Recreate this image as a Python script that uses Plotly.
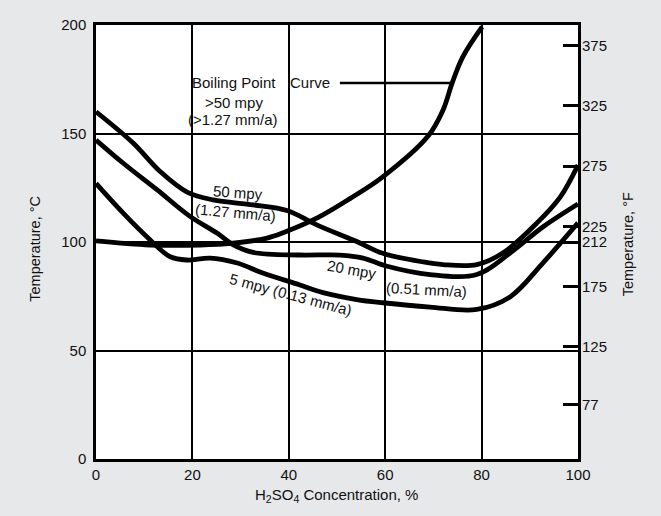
import plotly.graph_objects as go

# ---- data (H2SO4 concentration %, temperature °C) ----
conc_50mpy = [0, 7.7, 13.3, 18.9, 24.3, 32.6, 39.6, 45.9, 54.1, 59.5, 67.9, 72, 79, 84.4, 91.5, 96.3, 100]
temp_50mpy = [160, 145.6, 132.5, 123.0, 119.4, 117.1, 114.5, 107.8, 100.2, 94.8, 90.8, 89.6, 89.6, 94.9, 108.8, 120.7, 135.5]

conc_20mpy = [0, 5.6, 12.7, 19.5, 25.1, 28.4, 32.6, 42.3, 50.6, 55.4, 60.4, 69.3, 79.0, 85.9, 92.7, 100]
temp_20mpy = [147, 136.4, 124.0, 111.8, 104.1, 98.8, 95.2, 94.0, 94.0, 92.6, 88.8, 85.0, 85.0, 94.9, 106.9, 117.5]

conc_5mpy = [0, 5.6, 10.6, 15.4, 18.9, 23.7, 29.3, 34.6, 42.3, 47.1, 54.1, 59.5, 69.3, 79.0, 85.9, 92.7, 100]
temp_5mpy = [127, 113.4, 102.3, 93.2, 91.7, 92.6, 90.3, 85.7, 80.2, 76.7, 73.5, 72.0, 70.0, 68.9, 74.7, 90.3, 108.8]

conc_boil = [0, 11.2, 21.6, 28.4, 35.5, 39.2, 45.9, 52.7, 59.5, 68.9, 72.0, 73.9, 76.1, 80.1]
temp_boil = [100.5, 98.6, 98.6, 99.5, 101.8, 104.6, 111.1, 120.0, 130, 148.8, 160.8, 173.3, 185.3, 199.1]

x_ticks = [0, 20, 40, 60, 80, 100]
c_ticks = [0, 50, 100, 150, 200]
f_ticks = [77, 125, 175, 212, 225, 275, 325, 375]

FONT = "Liberation Sans, Arial, Helvetica, sans-serif"

fig = go.Figure()
for xs, ys in [(conc_50mpy, temp_50mpy), (conc_20mpy, temp_20mpy),
               (conc_5mpy, temp_5mpy), (conc_boil, temp_boil)]:
    fig.add_trace(go.Scatter(x=xs, y=ys, mode="lines",
                             line=dict(color="black", width=4.8, shape="spline", smoothing=1.0),
                             hoverinfo="skip", showlegend=False))

# invisible trace to activate the °F axis
fig.add_trace(go.Scatter(x=[0], y=[32], yaxis="y2", mode="markers",
                         marker=dict(opacity=0), hoverinfo="skip", showlegend=False))

# leader line for the boiling point curve label
fig.add_shape(type="line", x0=50.6, x1=73.9, y0=173.3, y1=173.3,
              line=dict(color="black", width=2.5))

annots = [
    dict(text="Boiling Point", x=28.6, y=173.6, angle=0, xanchor="center"),
    dict(text="Curve", x=39.9, y=173.6, angle=0, xanchor="left"),
    dict(text=">50 mpy", x=28.6, y=164.4, angle=0, xanchor="center"),
    dict(text="(>1.27 mm/a)", x=28.4, y=156.4, angle=0, xanchor="center"),
    dict(text="50 mpy", x=29.5, y=122.8, angle=4, xanchor="center"),
    dict(text="(1.27 mm/a)", x=29.0, y=113.4, angle=5, xanchor="center"),
    dict(text="20 mpy", x=53.1, y=87.1, angle=10, xanchor="center"),
    dict(text="(0.51 mm/a)", x=68.5, y=77.9, angle=3, xanchor="center"),
    dict(text="5 mpy (0.13 mm/a)", x=40.5, y=76.0, angle=15, xanchor="center"),
]
for a in annots:
    fig.add_annotation(text=a["text"], x=a["x"], y=a["y"], xref="x", yref="y",
                       showarrow=False, textangle=a["angle"], xanchor=a["xanchor"],
                       yanchor="middle", font=dict(size=15, color="#111111", family=FONT))

# axis titles
fig.add_annotation(text="Temperature, °C", xref="paper", yref="paper", x=-0.127, y=0.484,
                   xanchor="center", yanchor="middle",
                   textangle=-90, showarrow=False, font=dict(size=14.5, color="#111111", family=FONT))
fig.add_annotation(text="Temperature, °F", xref="paper", yref="paper", x=1.104, y=0.495,
                   xanchor="center", yanchor="middle",
                   textangle=-90, showarrow=False, font=dict(size=14.5, color="#111111", family=FONT))
fig.add_annotation(text="H<sub>2</sub>SO<sub>4</sub> Concentration, %", xref="paper", yref="paper",
                   x=0.498, y=-0.085, xanchor="center", yanchor="middle", showarrow=False,
                   font=dict(size=15, color="#111111", family=FONT))

fig.update_layout(
    width=661, height=516,
    margin=dict(l=96, r=83, t=25, b=57),
    paper_bgcolor="#e7e8ea", plot_bgcolor="white",
    font=dict(family=FONT, size=15, color="#111111"),
    xaxis=dict(range=[0, 100], tickvals=x_ticks, showgrid=True, gridcolor="black", gridwidth=2,
               showline=True, linecolor="black", linewidth=2.5, mirror=True, ticks="",
               zeroline=False, fixedrange=True),
    yaxis=dict(range=[0, 200], tickvals=c_ticks, showgrid=True, gridcolor="black", gridwidth=2,
               showline=True, linecolor="black", linewidth=2.5, mirror=True, ticks="",
               zeroline=False, ticklabelstandoff=4),
    yaxis2=dict(overlaying="y", side="right", range=[32, 392], tickvals=f_ticks,
                ticks="inside", ticklen=15, tickwidth=2.5, tickcolor="black",
                showgrid=False, showline=False, zeroline=False, ticklabelstandoff=3),
)

fig.write_html("out.html")
